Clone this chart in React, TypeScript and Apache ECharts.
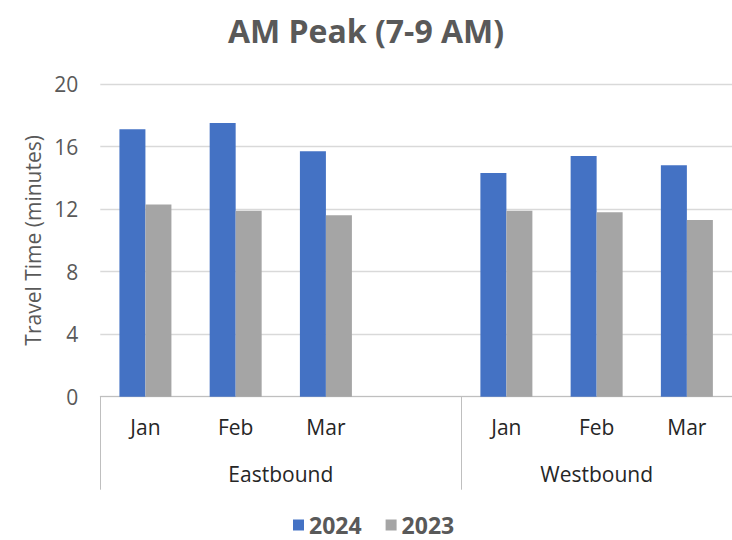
import React, { useEffect, useRef } from "react";
import * as echarts from "echarts";

const categories = ["Jan", "Feb", "Mar", "", "Jan", "Feb", "Mar"];
const groups = ["Eastbound", "Westbound"];
const groupSpans = [4, 3];
const seriesNames = ["2024", "2023"];
const values2024 = [17.1, 17.5, 15.7, null, 14.3, 15.4, 14.8];
const values2023 = [12.3, 11.9, 11.6, null, 11.9, 11.8, 11.3];

const FONT = "'Open Sans', sans-serif";
const TXT = "#595959";

export default function App() {
  const ref = useRef<HTMLDivElement>(null);
  useEffect(() => {
    if (!ref.current) return;
    const chart = echarts.init(ref.current, null, { renderer: "svg" });
    const bounds: number[] = [0];
    groupSpans.forEach((s) => bounds.push(bounds[bounds.length - 1] + s));
    const centers = groupSpans.map((s, i) => bounds[i] + s / 2);
    chart.setOption({
      animation: false,
      backgroundColor: "#ffffff",
      textStyle: { fontFamily: FONT },
      title: {
        text: "AM Peak (7-9 AM)",
        left: "center",
        top: 9,
        textStyle: { fontFamily: FONT, fontSize: 32, fontWeight: "bold", color: TXT },
      },
      legend: {
        data: seriesNames,
        top: 513,
        left: 293,
        padding: 0,
        itemWidth: 11,
        itemHeight: 11,
        itemGap: 24,
        icon: "rect",
        textStyle: { fontFamily: FONT, fontSize: 23, lineHeight: 24, fontWeight: "bold", color: TXT },
      },
      grid: { left: 100.3, width: 635, top: 84, height: 312.7, containLabel: false },
      xAxis: [
        {
          type: "category",
          data: categories,
          boundaryGap: true,
          axisLine: { show: true, lineStyle: { color: "#bfbfbf", width: 1 } },
          axisTick: { show: false },
          axisLabel: { fontFamily: FONT, fontSize: 21, color: "#262626", margin: 20, interval: 0 },
          splitLine: { show: false },
        },
        {
          type: "value",
          min: 0,
          max: bounds[bounds.length - 1],
          position: "bottom",
          axisLine: { show: false },
          splitLine: { show: false },
          axisTick: {
            show: true,
            customValues: bounds,
            length: 93,
            lineStyle: { color: "#bfbfbf", width: 1 },
          },
          axisLabel: {
            customValues: centers,
            formatter: (v: number) => {
              const i = centers.indexOf(v);
              return i >= 0 ? groups[i] : "";
            },
            fontFamily: FONT,
            fontSize: 21,
            color: "#262626",
            margin: 67,
          },
        },
      ],
      yAxis: {
        type: "value",
        min: 0,
        max: 20,
        interval: 4,
        name: "Travel Time (minutes)",
        nameLocation: "middle",
        nameGap: 56,
        nameTextStyle: { fontFamily: FONT, fontSize: 21, color: TXT },
        axisLine: { show: false },
        axisTick: { show: false },
        axisLabel: { fontFamily: FONT, fontSize: 21, color: TXT, margin: 22 },
        splitLine: { lineStyle: { color: "#d9d9d9", width: 1.3 } },
      },
      series: [
        {
          name: seriesNames[0],
          type: "bar",
          data: values2024,
          barWidth: 26,
          barGap: "0%",
          itemStyle: { color: "#4472C4" },
        },
        {
          name: seriesNames[1],
          type: "bar",
          data: values2023,
          barWidth: 26,
          barGap: "0%",
          itemStyle: { color: "#A5A5A5" },
        },
      ],
    });
    return () => chart.dispose();
  }, []);
  return (
    <div
      ref={ref}
      style={{ position: "fixed", left: 0, top: 0, width: 732, height: 540 }}
    />
  );
}
